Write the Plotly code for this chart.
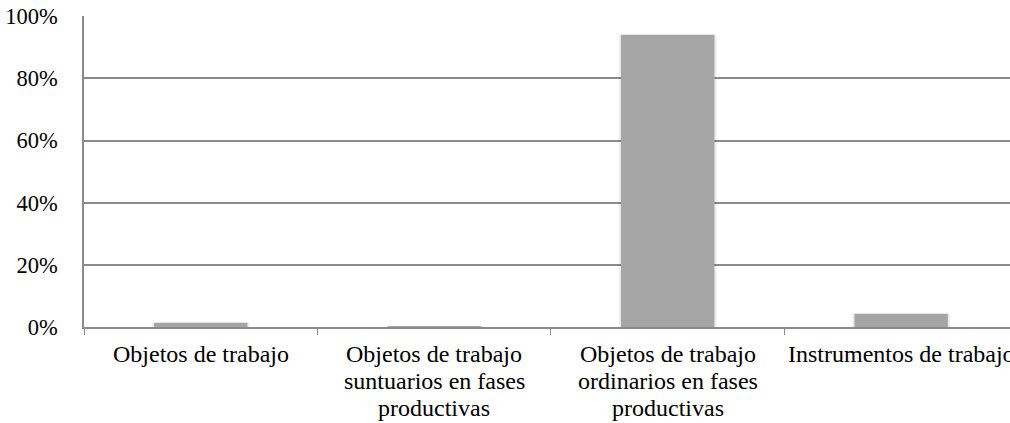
import plotly.graph_objects as go

# Share of each category of work object / instrument
categories = [
    "Objetos de trabajo",
    "Objetos de trabajo suntuarios en fases productivas",
    "Objetos de trabajo ordinarios en fases productivas",
    "Instrumentos de trabajo",
]
# label lines shown under each category
label_lines = [
    ["Objetos de trabajo"],
    ["Objetos de trabajo", "suntuarios en fases", "productivas"],
    ["Objetos de trabajo", "ordinarios en fases", "productivas"],
    ["Instrumentos de trabajo"],
]
values = [0.014, 0.002, 0.941, 0.043]
y_ticks = [0, 0.2, 0.4, 0.6, 0.8, 1.0]

FONT = "Liberation Serif, Times New Roman, serif"
GRID = "#8a8a8a"
LINE_GAP = 27

fig = go.Figure()

# soft drop shadow behind each bar
fig.add_trace(go.Bar(
    x=categories, y=values, width=0.418,
    marker=dict(color="rgba(0,0,0,0.08)", line=dict(width=0)),
    hoverinfo="skip", showlegend=False,
))
fig.add_trace(go.Bar(
    x=categories, y=values, width=0.4,
    marker=dict(color="#a5a5a5", line=dict(width=0)),
    showlegend=False,
))

# category labels, one line at a time for tighter line spacing
for cat, lines in zip(categories, label_lines):
    for i, txt in enumerate(lines):
        fig.add_annotation(
            x=cat, y=0, xref="x", yref="paper",
            text=txt, showarrow=False,
            xanchor="center", yanchor="top",
            yshift=-(12 + i * LINE_GAP),
            font=dict(family=FONT, size=24, color="black"),
        )

fig.update_layout(
    width=1010, height=423,
    margin=dict(l=84, r=0, t=16, b=96),
    paper_bgcolor="white", plot_bgcolor="white",
    barmode="overlay",
    font=dict(family=FONT, size=22, color="black"),
)

fig.update_xaxes(
    type="category",
    categoryorder="array", categoryarray=categories,
    range=[-0.5, 3.466],
    tickson="boundaries",
    ticks="outside", ticklen=6, tickwidth=1.3, tickcolor=GRID,
    showticklabels=False,
    showline=True, linecolor=GRID, linewidth=1.5,
    showgrid=False,
)

fig.update_yaxes(
    range=[0, 1.001],
    tickvals=y_ticks, tickformat=".0%",
    showgrid=True, gridcolor=GRID, gridwidth=1.5,
    showline=True, linecolor=GRID, linewidth=1.5,
    zeroline=False,
    ticks="", ticklabelstandoff=20,
    tickfont=dict(family=FONT, size=22.5, color="black"),
)

fig.write_html("out.html")
